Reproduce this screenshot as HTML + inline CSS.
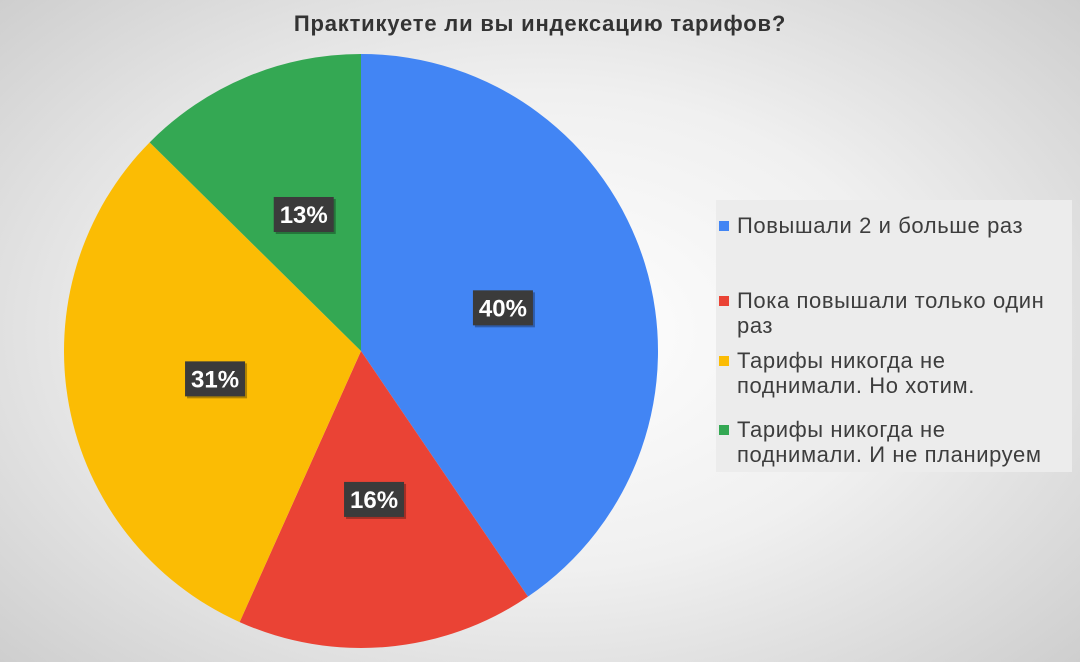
<!DOCTYPE html>
<html><head><meta charset="utf-8"><style>
html,body{margin:0;padding:0;}
body{width:1080px;height:662px;overflow:hidden;background:radial-gradient(ellipse 75% 80% at 50% 50%,#ffffff 0%,#f0f0f0 45%,#c8c8c8 100%);font-family:"Liberation Sans",sans-serif;position:relative;}
#title{position:absolute;left:0;width:1080px;top:11px;text-align:center;font-weight:bold;font-size:22px;letter-spacing:0.8px;color:#333;}
#legend{position:absolute;left:716px;top:200px;width:356px;height:272px;background:#ececec;}
.li{position:absolute;left:21px;font-size:22px;letter-spacing:0.6px;line-height:25px;color:#3d3d3d;white-space:nowrap;}
.mk{position:absolute;left:3px;width:10px;height:10px;}
</style></head><body>
<div id="title">Практикуете ли вы индексацию тарифов?</div>
<svg id="pie" width="1080" height="662" style="position:absolute;left:0;top:0"></svg>
<div id="legend">
<div class="mk" style="top:21px;background:#4285f4"></div>
<div class="li" style="top:13px">Повышали 2 и больше раз</div>
<div class="mk" style="top:96px;background:#ea4335"></div>
<div class="li" style="top:88px">Пока повышали только один<br>раз</div>
<div class="mk" style="top:156px;background:#fbbc04"></div>
<div class="li" style="top:148px">Тарифы никогда не<br>поднимали. Но хотим.</div>
<div class="mk" style="top:225px;background:#34a853"></div>
<div class="li" style="top:217px">Тарифы никогда не<br>поднимали. И не планируем</div>
</div>
<script>
const categories=["Повышали 2 и больше раз","Пока повышали только один раз","Тарифы никогда не поднимали. Но хотим.","Тарифы никогда не поднимали. И не планируем"];
const values=[40.5,16.2,30.7,12.6];
const labels=["40%","16%","31%","13%"];
const colors=["#4285f4","#ea4335","#fbbc04","#34a853"];
const svg=document.getElementById('pie');
const NS="http://www.w3.org/2000/svg";
const cx=361,cy=351,r=297;
const total=values.reduce((a,b)=>a+b,0);
function pt(a,rr){return [cx+rr*Math.sin(a),cy-rr*Math.cos(a)];}
let a0=0;
values.forEach((v,i)=>{
  const a1=a0+v/total*2*Math.PI;
  const p0=pt(a0,r),p1=pt(a1,r);
  const large=(a1-a0)>Math.PI?1:0;
  const path=document.createElementNS(NS,'path');
  path.setAttribute('d',`M${cx},${cy} L${p0[0]},${p0[1]} A${r},${r} 0 ${large} 1 ${p1[0]},${p1[1]} Z`);
  path.setAttribute('fill',colors[i]);
  
  
  svg.appendChild(path);
  a0=a1;
});
a0=0;
values.forEach((v,i)=>{
  const a1=a0+v/total*2*Math.PI;
  const m=pt((a0+a1)/2,r*0.5);
  const g=document.createElementNS(NS,'g');
  
  
  const sh=document.createElementNS(NS,'rect');
  sh.setAttribute('x',m[0]-28);sh.setAttribute('y',m[1]-15);sh.setAttribute('width',60);sh.setAttribute('height',35);sh.setAttribute('fill','rgba(0,0,0,0.3)');
  g.appendChild(sh);
  const rc=document.createElementNS(NS,'rect');
  rc.setAttribute('x',m[0]-30);rc.setAttribute('y',m[1]-17);rc.setAttribute('width',60);rc.setAttribute('height',35);rc.setAttribute('fill','#3b3b3b');
  g.appendChild(rc);
  const t=document.createElementNS(NS,'text');
  t.setAttribute('x',m[0]);t.setAttribute('y',m[1]+9);t.setAttribute('text-anchor','middle');
  t.setAttribute('font-family','Liberation Sans, sans-serif');t.setAttribute('font-weight','bold');t.setAttribute('font-size','24');t.setAttribute('fill','#fff');
  t.textContent=labels[i];
  g.appendChild(t);
  svg.appendChild(g);
  a0=a1;
});
</script>
</body></html>
